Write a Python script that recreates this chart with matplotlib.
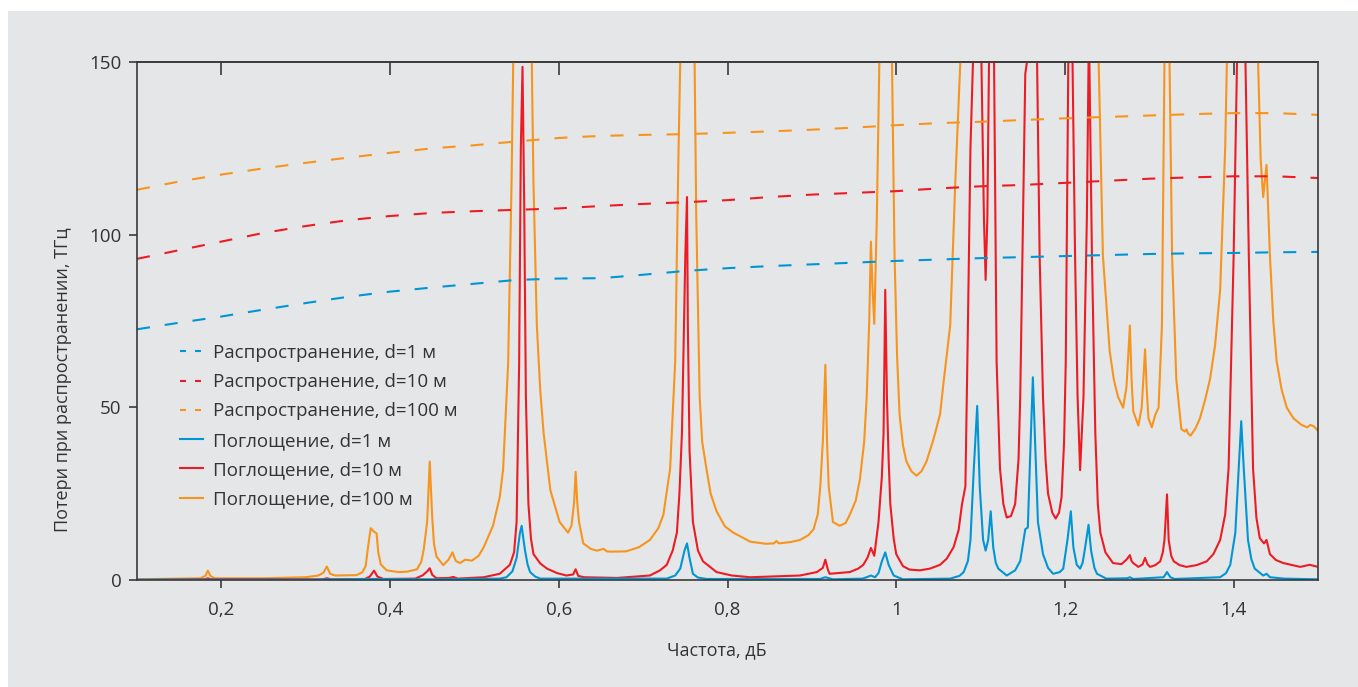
import matplotlib
matplotlib.use('Agg')
import matplotlib.pyplot as plt
from matplotlib.lines import Line2D
from matplotlib.patches import Rectangle

plt.rcParams['font.family'] = ['Open Sans', 'DejaVu Sans']
plt.rcParams['lines.scale_dashes'] = False

GRAY = '#e5e6e8'
TXT = '#333333'
BLUE = '#0096d6'
RED = '#ed1c24'
ORANGE = '#f7941d'

# propagation losses (dashed)
prop_x = [0.10, 0.15, 0.20, 0.25, 0.30, 0.35, 0.40, 0.45, 0.50, 0.55, 0.60, 0.65, 0.70, 0.75, 0.80,
          0.85, 0.90, 0.95, 1.00, 1.05, 1.10, 1.15, 1.20, 1.25, 1.30, 1.35, 1.40, 1.45, 1.50]
prop_1 = [72.6, 74.5, 76.3, 78.3, 80.2, 82.0, 83.5, 84.7, 85.8, 86.9, 87.3, 87.4, 88.4, 89.5, 90.3,
          90.9, 91.4, 91.9, 92.4, 92.8, 93.2, 93.5, 93.8, 94.1, 94.4, 94.6, 94.7, 94.9, 95.0]
prop_10 = [93.0, 95.5, 98.0, 100.5, 102.5, 104.2, 105.4, 106.3, 106.8, 107.2, 107.6, 108.3, 108.9, 109.4, 110.0,
           110.9, 111.6, 112.1, 112.6, 113.4, 114.0, 114.4, 115.0, 115.6, 116.2, 116.6, 116.9, 116.9, 116.4]
prop_100 = [113.0, 115.4, 117.4, 119.2, 120.8, 122.3, 123.7, 125.0, 125.9, 127.0, 128.0, 128.6, 128.9, 129.1, 129.5,
            129.9, 130.4, 131.0, 131.7, 132.3, 132.7, 133.2, 133.7, 134.1, 134.5, 134.9, 135.2, 135.2, 134.7]

# absorption losses (solid), (frequency, loss) pairs
abs_100 = [
    (0.100, 0.2), (0.150, 0.4), (0.175, 0.5), (0.181, 1.2), (0.184, 2.7), (0.187, 1.2), (0.192, 0.5),
    (0.250, 0.5), (0.300, 0.8), (0.315, 1.3), (0.321, 2.1), (0.325, 3.9), (0.329, 1.8), (0.335, 1.3),
    (0.360, 1.4), (0.367, 2.2), (0.371, 4.0), (0.374, 9.7), (0.377, 15.0), (0.381, 14.0), (0.384, 13.5),
    (0.386, 8.0), (0.389, 4.5), (0.396, 2.8), (0.410, 2.3), (0.420, 2.4), (0.432, 3.1), (0.437, 5.3),
    (0.440, 9.0), (0.444, 17.0), (0.447, 34.3), (0.450, 18.0), (0.452, 10.6), (0.455, 6.8), (0.463, 4.3),
    (0.469, 5.8), (0.474, 8.0), (0.478, 5.5), (0.483, 4.9), (0.489, 5.9), (0.497, 5.6), (0.505, 7.0),
    (0.511, 9.5), (0.522, 15.7), (0.530, 24.0), (0.534, 32.0), (0.540, 63.0), (0.544, 115.0), (0.546, 150.0),
    (0.549, 250.0), (0.557, 400.0), (0.565, 250.0), (0.568, 150.0), (0.570, 115.0), (0.574, 73.7),
    (0.578, 55.0), (0.582, 42.6), (0.590, 26.0), (0.601, 16.8), (0.611, 13.7), (0.615, 15.7), (0.618, 22.0),
    (0.620, 31.3), (0.622, 22.0), (0.624, 16.8), (0.629, 10.6), (0.638, 9.0), (0.645, 8.5), (0.653, 9.0),
    (0.657, 8.3), (0.661, 8.2), (0.680, 8.3), (0.695, 9.5), (0.708, 11.6), (0.718, 15.0), (0.724, 18.9),
    (0.732, 32.3), (0.738, 63.3), (0.742, 125.0), (0.744, 150.0), (0.748, 300.0), (0.752, 400.0),
    (0.757, 300.0), (0.761, 150.0), (0.763, 104.7), (0.767, 53.0), (0.770, 40.0), (0.775, 32.3),
    (0.780, 25.0), (0.787, 19.9), (0.797, 15.5), (0.807, 13.7), (0.827, 11.1), (0.845, 10.5), (0.855, 10.6),
    (0.858, 11.3), (0.861, 10.6), (0.875, 11.0), (0.886, 11.6), (0.896, 13.0), (0.902, 14.7), (0.907, 19.0),
    (0.910, 27.1), (0.913, 40.0), (0.916, 62.3), (0.918, 40.0), (0.920, 27.0), (0.925, 16.8), (0.933, 15.7),
    (0.940, 16.5), (0.945, 18.9), (0.952, 23.0), (0.957, 29.2), (0.962, 40.0), (0.965, 53.0), (0.968, 75.0),
    (0.970, 98.0), (0.972, 84.0), (0.974, 74.2), (0.977, 104.7), (0.980, 150.0), (0.985, 350.0),
    (0.990, 300.0), (0.995, 150.0), (0.998, 94.3), (1.001, 65.0), (1.004, 47.8), (1.008, 39.0),
    (1.012, 34.4), (1.018, 31.5), (1.024, 30.2), (1.030, 31.5), (1.036, 34.4), (1.044, 40.6), (1.052, 48.0),
    (1.056, 57.0), (1.064, 73.7), (1.070, 115.0), (1.076, 150.0), (1.080, 300.0), (1.100, 500.0),
    (1.160, 500.0), (1.220, 500.0), (1.236, 300.0), (1.240, 150.0), (1.245, 94.0), (1.253, 66.4),
    (1.258, 58.0), (1.263, 53.0), (1.269, 49.9), (1.273, 56.0), (1.277, 73.7), (1.279, 58.0), (1.281, 48.9),
    (1.287, 44.7), (1.291, 49.9), (1.295, 66.8), (1.297, 55.0), (1.299, 46.8), (1.303, 44.2), (1.307, 47.8),
    (1.311, 49.9), (1.315, 73.7), (1.318, 150.0), (1.321, 300.0), (1.324, 150.0), (1.327, 94.0),
    (1.332, 58.2), (1.338, 43.7), (1.342, 43.0), (1.344, 43.6), (1.346, 42.4), (1.349, 41.8), (1.355, 44.0),
    (1.360, 46.8), (1.366, 52.0), (1.372, 58.2), (1.378, 68.0), (1.384, 84.0), (1.390, 125.4), (1.392, 150.0),
    (1.400, 350.0), (1.410, 500.0), (1.420, 350.0), (1.429, 150.0), (1.432, 122.0), (1.435, 110.9),
    (1.439, 120.2), (1.443, 94.0), (1.447, 75.0), (1.451, 63.3), (1.457, 55.0), (1.463, 49.9), (1.471, 46.8),
    (1.480, 45.0), (1.487, 44.2), (1.491, 44.9), (1.495, 44.5), (1.500, 43.2),
]

abs_10 = [
    (0.100, 0.0), (0.180, 0.2), (0.184, 0.5), (0.188, 0.2), (0.320, 0.2), (0.325, 0.5), (0.330, 0.2),
    (0.370, 0.3), (0.376, 1.0), (0.381, 2.7), (0.385, 1.0), (0.392, 0.3), (0.430, 0.4), (0.439, 1.4),
    (0.444, 2.5), (0.447, 3.4), (0.450, 1.5), (0.455, 0.5), (0.470, 0.6), (0.475, 0.9), (0.480, 0.4),
    (0.511, 0.8), (0.530, 1.8), (0.542, 4.4), (0.547, 8.0), (0.550, 16.8), (0.553, 63.0), (0.555, 125.0),
    (0.557, 148.6), (0.559, 108.8), (0.561, 53.0), (0.564, 22.0), (0.567, 12.0), (0.570, 7.5), (0.578, 4.8),
    (0.586, 3.3), (0.598, 2.0), (0.609, 1.3), (0.617, 1.6), (0.620, 3.1), (0.623, 1.2), (0.630, 0.8),
    (0.669, 0.6), (0.708, 1.3), (0.720, 2.8), (0.728, 4.4), (0.735, 8.5), (0.740, 13.7), (0.743, 25.0),
    (0.746, 42.6), (0.750, 94.0), (0.752, 110.9), (0.753, 73.7), (0.755, 37.5), (0.759, 16.8), (0.765, 8.5),
    (0.771, 5.4), (0.787, 2.3), (0.805, 1.3), (0.827, 0.8), (0.886, 1.3), (0.906, 2.3), (0.913, 3.5),
    (0.916, 5.9), (0.919, 3.0), (0.921, 1.8), (0.945, 2.3), (0.955, 3.3), (0.961, 4.4), (0.966, 6.5),
    (0.970, 9.3), (0.974, 7.0), (0.979, 16.8), (0.983, 30.0), (0.985, 42.6), (0.987, 84.0), (0.989, 53.0),
    (0.991, 35.0), (0.993, 22.0), (0.997, 12.0), (1.000, 7.5), (1.008, 4.0), (1.016, 3.0), (1.028, 2.8),
    (1.040, 3.3), (1.052, 4.4), (1.060, 6.2), (1.068, 9.5), (1.074, 14.5), (1.078, 22.0), (1.082, 27.1),
    (1.085, 73.7), (1.088, 125.0), (1.091, 150.0), (1.095, 300.0), (1.101, 150.0), (1.104, 104.7),
    (1.106, 86.9), (1.108, 104.7), (1.110, 150.0), (1.116, 150.0), (1.119, 63.3), (1.123, 32.3),
    (1.127, 22.0), (1.131, 18.1), (1.136, 18.5), (1.141, 22.0), (1.145, 35.0), (1.147, 53.0), (1.151, 115.0),
    (1.153, 146.6), (1.155, 150.0), (1.160, 300.0), (1.167, 150.0), (1.170, 94.0), (1.174, 53.0),
    (1.177, 35.0), (1.180, 25.0), (1.185, 19.5), (1.189, 17.8), (1.193, 19.5), (1.196, 24.0), (1.199, 40.0),
    (1.201, 63.3), (1.204, 150.0), (1.209, 150.0), (1.212, 94.0), (1.215, 53.0), (1.218, 31.8), (1.222, 53.0),
    (1.226, 104.7), (1.228, 150.0), (1.229, 150.0), (1.232, 94.0), (1.236, 42.6), (1.239, 22.0),
    (1.242, 13.7), (1.248, 8.0), (1.257, 4.9), (1.267, 4.6), (1.273, 5.9), (1.277, 7.2), (1.279, 5.5),
    (1.281, 4.9), (1.287, 3.8), (1.292, 4.5), (1.295, 6.4), (1.298, 4.5), (1.301, 3.8), (1.307, 4.3),
    (1.313, 5.4), (1.316, 8.0), (1.318, 11.6), (1.321, 24.8), (1.323, 11.6), (1.326, 7.0), (1.329, 5.4),
    (1.336, 4.3), (1.344, 3.8), (1.356, 4.3), (1.368, 5.4), (1.376, 7.5), (1.384, 11.6), (1.390, 19.0),
    (1.394, 32.3), (1.400, 94.0), (1.404, 150.0), (1.409, 300.0), (1.414, 150.0), (1.418, 94.0),
    (1.423, 32.3), (1.427, 18.0), (1.431, 12.1), (1.436, 10.6), (1.439, 11.6), (1.443, 7.5), (1.450, 5.8),
    (1.459, 4.9), (1.479, 3.8), (1.490, 4.4), (1.500, 3.8),
]

abs_1 = [
    (0.100, 0.1), (0.300, 0.1), (0.381, 0.3), (0.450, 0.2), (0.530, 0.4), (0.538, 0.8), (0.545, 2.5),
    (0.550, 6.4), (0.554, 13.7), (0.556, 15.7), (0.558, 12.0), (0.560, 8.5), (0.563, 4.5), (0.566, 2.3),
    (0.572, 1.0), (0.578, 0.4), (0.728, 0.4), (0.738, 1.3), (0.744, 3.3), (0.749, 8.5), (0.752, 10.6),
    (0.755, 6.4), (0.759, 1.8), (0.765, 0.7), (0.775, 0.3), (0.910, 0.3), (0.913, 0.6), (0.916, 0.8),
    (0.919, 0.6), (0.925, 0.2), (0.960, 0.4), (0.965, 0.8), (0.970, 1.3), (0.975, 0.8), (0.979, 2.0),
    (0.983, 5.4), (0.987, 8.0), (0.991, 4.4), (0.997, 1.3), (1.008, 0.2), (1.064, 0.4), (1.075, 1.2),
    (1.080, 2.3), (1.085, 5.5), (1.088, 11.6), (1.092, 32.3), (1.096, 50.4), (1.099, 27.1), (1.103, 11.6),
    (1.106, 8.5), (1.109, 11.6), (1.112, 19.9), (1.115, 9.5), (1.118, 5.0), (1.121, 3.3), (1.131, 1.3),
    (1.141, 2.8), (1.147, 5.5), (1.149, 8.5), (1.153, 14.7), (1.156, 15.2), (1.159, 37.5), (1.162, 58.7),
    (1.165, 37.5), (1.168, 16.8), (1.174, 7.5), (1.180, 3.5), (1.186, 1.8), (1.194, 2.3), (1.198, 3.3),
    (1.203, 11.6), (1.207, 19.9), (1.210, 9.5), (1.214, 4.4), (1.218, 3.3), (1.221, 5.0), (1.224, 9.5),
    (1.228, 16.0), (1.231, 8.5), (1.235, 3.5), (1.238, 1.8), (1.249, 0.4), (1.274, 0.5), (1.277, 0.8),
    (1.281, 0.3), (1.317, 0.8), (1.321, 2.3), (1.325, 0.8), (1.330, 0.3), (1.384, 0.8), (1.391, 2.0),
    (1.396, 4.4), (1.402, 13.7), (1.406, 32.3), (1.409, 46.0), (1.412, 32.3), (1.417, 11.6), (1.421, 6.0),
    (1.425, 3.3), (1.435, 1.3), (1.439, 1.8), (1.443, 0.8), (1.460, 0.4), (1.500, 0.2),
]

labels = ['Распространение, d=1 м', 'Распространение, d=10 м', 'Распространение, d=100 м',
          'Поглощение, d=1 м', 'Поглощение, d=10 м', 'Поглощение, d=100 м']
xticks = [0.2, 0.4, 0.6, 0.8, 1.0, 1.2, 1.4]
xtick_labels = ['0,2', '0,4', '0,6', '0,8', '1', '1,2', '1,4']
yticks = [0, 50, 100, 150]

W, H = 1358, 687
fig = plt.figure(figsize=(W / 100, H / 100), dpi=100, facecolor='white')
fig.patches.append(Rectangle((8 / W, 0), 1, 1 - 11 / H, transform=fig.transFigure,
                             facecolor=GRAY, edgecolor='none', zorder=-10))
ax = fig.add_axes([137 / W, 1 - 580 / H, (1318 - 137) / W, (580 - 62) / H])
ax.set_facecolor(GRAY)

lw = 1.5
for data, c in [(abs_100, ORANGE), (abs_10, RED), (abs_1, BLUE)]:
    xs, ys = zip(*data)
    ax.plot(xs, ys, color=c, lw=lw, solid_joinstyle='round')

dash = (9.4, 10.8)
for ys, c in [(prop_1, BLUE), (prop_10, RED), (prop_100, ORANGE)]:
    ax.plot(prop_x, ys, color=c, lw=lw, dashes=dash)

ax.set_xlim(0.1, 1.5)
ax.set_ylim(0, 150)
ax.set_xticks(xticks)
ax.set_xticklabels(xtick_labels)
ax.set_yticks(yticks)

for s in ax.spines.values():
    s.set_color('#3a3a3a')
    s.set_linewidth(1.2)
ax.tick_params(axis='both', direction='out', length=6, width=1.2, color='#3a3a3a',
               labelsize=13.5, labelcolor=TXT)
ax.tick_params(axis='x', pad=9)
ax.tick_params(axis='y', pad=5)

top = ax.secondary_xaxis('top')
top.set_xticks(xticks)
top.tick_params(direction='in', length=9, width=1.2, color='#3a3a3a', labeltop=False)
top.spines['top'].set_color('#3a3a3a')
top.spines['top'].set_linewidth(1.2)

ax.set_xlabel('Частота, дБ', fontsize=13, color=TXT)
ax.set_ylabel('Потери при распространении, ТГц', fontsize=13, color=TXT)
ax.xaxis.set_label_coords((717 - 137) / 1181, (580 - 641) / 518)
ax.yaxis.set_label_coords((72 - 137) / 1181, (580 - 380) / 518)

handles = []
for c in [BLUE, RED, ORANGE]:
    handles.append(Line2D([], [], color=c, lw=lw, dashes=(4.3, 6.5)))
for c in [BLUE, RED, ORANGE]:
    handles.append(Line2D([], [], color=c, lw=lw))
leg = ax.legend(handles, labels, loc='upper left', bbox_to_anchor=((180 - 137) / 1181, (580 - 344) / 518),
                frameon=False, fontsize=13.5, handlelength=1.2, handletextpad=0.55,
                labelspacing=0.6, borderpad=0, borderaxespad=0)
for t in leg.get_texts():
    t.set_color(TXT)

fig.savefig('out.png', dpi=100, facecolor=fig.get_facecolor())
